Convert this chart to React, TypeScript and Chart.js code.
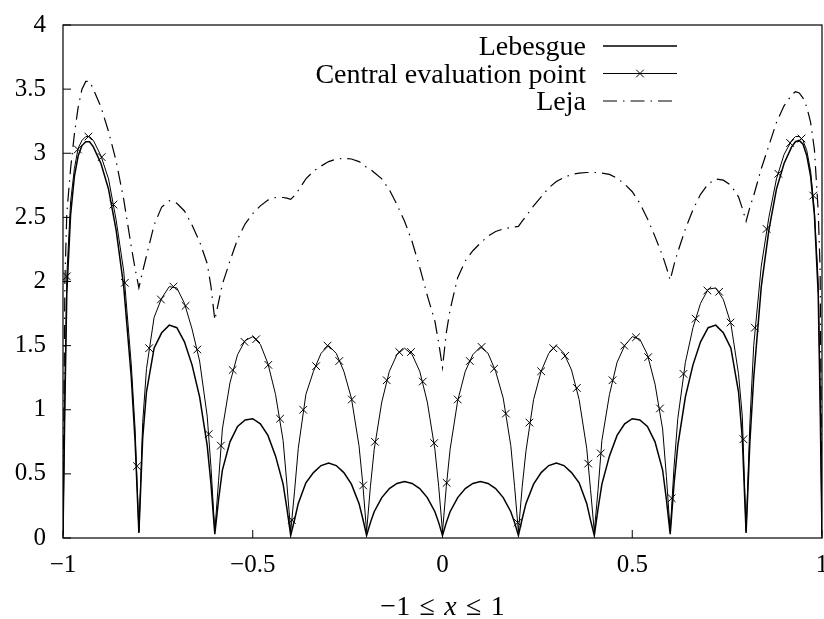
import React, { useEffect, useRef } from "react";
import { Chart, registerables } from "chart.js";

Chart.register(...registerables);

// ---- data ----
const xGrid = [
  -1, -0.995, -0.99, -0.98, -0.97, -0.96, -0.95, -0.94, -0.93, -0.92, -0.9, -0.88, -0.86, -0.84, -0.82, -0.81,
  -0.8, -0.79, -0.78, -0.76, -0.74, -0.72, -0.7, -0.68, -0.66, -0.64, -0.62, -0.61,
  -0.6, -0.59, -0.58, -0.56, -0.54, -0.52, -0.5, -0.48, -0.46, -0.44, -0.42, -0.41,
  -0.4, -0.39, -0.38, -0.36, -0.34, -0.32, -0.3, -0.28, -0.26, -0.24, -0.22, -0.21,
  -0.2, -0.19, -0.18, -0.16, -0.14, -0.12, -0.1, -0.08, -0.06, -0.04, -0.02, -0.01,
  0,
  0.01, 0.02, 0.04, 0.06, 0.08, 0.1, 0.12, 0.14, 0.16, 0.18, 0.19, 0.2,
  0.21, 0.22, 0.24, 0.26, 0.28, 0.3, 0.32, 0.34, 0.36, 0.38, 0.39, 0.4,
  0.41, 0.42, 0.44, 0.46, 0.48, 0.5, 0.52, 0.54, 0.56, 0.58, 0.59, 0.6,
  0.61, 0.62, 0.64, 0.66, 0.68, 0.7, 0.72, 0.74, 0.76, 0.78, 0.79, 0.8,
  0.81, 0.82, 0.84, 0.86, 0.88, 0.9, 0.92, 0.93, 0.94, 0.95, 0.96, 0.97, 0.98, 0.99, 0.995, 1,
];

const lebesgue = [
  0.02, 1.05, 1.9, 2.52, 2.82, 2.98, 3.06, 3.09, 3.09, 3.05, 2.92, 2.72, 2.4, 1.96, 1.25, 0.75,
  0.04, 0.78, 1.14, 1.48, 1.6, 1.66, 1.64, 1.53, 1.35, 1.1, 0.72, 0.42,
  0.03, 0.3, 0.53, 0.75, 0.87, 0.92, 0.93, 0.89, 0.8, 0.64, 0.42, 0.23,
  0.02, 0.14, 0.27, 0.43, 0.51, 0.565, 0.585, 0.565, 0.51, 0.42, 0.27, 0.15,
  0.02, 0.12, 0.205, 0.315, 0.385, 0.425, 0.44, 0.425, 0.385, 0.315, 0.205, 0.12,
  0.02,
  0.12, 0.205, 0.315, 0.385, 0.425, 0.44, 0.425, 0.385, 0.315, 0.205, 0.12, 0.02,
  0.15, 0.27, 0.42, 0.51, 0.565, 0.585, 0.565, 0.51, 0.43, 0.27, 0.14, 0.02,
  0.23, 0.42, 0.64, 0.8, 0.89, 0.93, 0.92, 0.87, 0.75, 0.53, 0.3, 0.03,
  0.42, 0.72, 1.1, 1.35, 1.53, 1.64, 1.66, 1.6, 1.48, 1.14, 0.78, 0.04,
  0.75, 1.25, 1.96, 2.4, 2.72, 2.92, 3.05, 3.09, 3.1, 3.07, 2.98, 2.82, 2.52, 1.9, 1.05, 0.02,
];

const central = [
  0.02, 1.15, 2.04, 2.62, 2.88, 3.04, 3.1, 3.13, 3.13, 3.1, 2.98, 2.8, 2.48, 2.08, 1.35, 0.85,
  0.05, 0.9, 1.32, 1.72, 1.87, 1.96, 1.95, 1.83, 1.63, 1.38, 0.95, 0.55,
  0.05, 0.45, 0.85, 1.21, 1.43, 1.54, 1.57, 1.51, 1.36, 1.12, 0.76, 0.42,
  0.05, 0.36, 0.7, 1.12, 1.3, 1.44, 1.5, 1.44, 1.3, 1.09, 0.72, 0.42,
  0.05, 0.4, 0.69, 1.06, 1.3, 1.43, 1.48, 1.43, 1.3, 1.06, 0.69, 0.4,
  0.05,
  0.4, 0.69, 1.07, 1.3, 1.43, 1.49, 1.44, 1.3, 1.09, 0.72, 0.4, 0.05,
  0.4, 0.68, 1.08, 1.3, 1.44, 1.5, 1.44, 1.31, 1.08, 0.7, 0.38, 0.05,
  0.38, 0.76, 1.12, 1.37, 1.5, 1.57, 1.55, 1.43, 1.2, 0.85, 0.48, 0.05,
  0.55, 0.93, 1.37, 1.64, 1.83, 1.94, 1.95, 1.86, 1.67, 1.28, 0.95, 0.05,
  0.9, 1.5, 2.12, 2.5, 2.8, 2.99, 3.1, 3.13, 3.13, 3.1, 3.02, 2.86, 2.55, 2.0, 1.2, 0.02,
];

const leja = [
  0.05, 2.0, 2.53, 2.88, 3.15, 3.36, 3.5, 3.56, 3.56, 3.5, 3.36, 3.17, 2.94, 2.64, 2.27, 2.1,
  1.95, 2.08, 2.2, 2.44, 2.58, 2.63, 2.61, 2.55, 2.44, 2.31, 2.14, 1.96,
  1.7, 1.84, 1.98, 2.16, 2.33, 2.45, 2.53, 2.59, 2.635, 2.655, 2.655, 2.65,
  2.64, 2.67, 2.71, 2.8, 2.86, 2.9, 2.935, 2.955, 2.96, 2.955, 2.935, 2.915,
  2.89, 2.875, 2.85, 2.8, 2.715, 2.6, 2.47, 2.31, 2.11, 1.89, 1.69, 1.52,
  1.33,
  1.6, 1.78, 2.03, 2.16, 2.24, 2.3, 2.355, 2.39, 2.41, 2.42, 2.425, 2.43,
  2.47, 2.51, 2.59, 2.66, 2.73, 2.78, 2.81, 2.835, 2.845, 2.85, 2.85, 2.85,
  2.85, 2.845, 2.835, 2.805, 2.76, 2.7, 2.61, 2.49, 2.35, 2.2, 2.11, 2.01,
  2.13, 2.23, 2.41, 2.56, 2.68, 2.76, 2.8, 2.79, 2.75, 2.66, 2.57, 2.47,
  2.58, 2.67, 2.88, 3.06, 3.24, 3.37, 3.455, 3.48, 3.47, 3.43, 3.36, 3.24, 3.03, 2.55, 2.1, 0.05,
];

const markerX = [
  -0.99, -0.961, -0.933, -0.898, -0.867, -0.837, -0.805, -0.773, -0.742, -0.709, -0.677, -0.646, -0.616, -0.584,
  -0.553, -0.522, -0.491, -0.459, -0.428, -0.397, -0.367, -0.333, -0.303, -0.272, -0.239, -0.209, -0.178,
  -0.147, -0.114, -0.083, -0.052, -0.022, 0.011, 0.04, 0.072, 0.103, 0.136, 0.167, 0.198, 0.229, 0.26,
  0.292, 0.323, 0.354, 0.384, 0.417, 0.448, 0.479, 0.51, 0.542, 0.573, 0.604, 0.635, 0.667, 0.698, 0.729,
  0.759, 0.793, 0.823, 0.854, 0.885, 0.916, 0.946, 0.977,
];
const markerY = [
  2.04, 3.03, 3.13, 2.97, 2.6, 1.99, 0.56, 1.48, 1.86, 1.96, 1.81, 1.47, 0.81, 0.72,
  1.31, 1.53, 1.55, 1.35, 0.93, 0.14, 1.0, 1.34, 1.5, 1.38, 1.08, 0.41, 0.75,
  1.23, 1.45, 1.45, 1.22, 0.74, 0.43, 1.08, 1.38, 1.49, 1.32, 0.97, 0.12, 0.9, 1.3,
  1.48, 1.42, 1.17, 0.58, 0.66, 1.23, 1.5, 1.565, 1.41, 1.01, 0.31, 1.28, 1.71, 1.93, 1.92,
  1.68, 0.77, 1.64, 2.41, 2.84, 3.08, 3.115, 2.67,
];

const seriesNames = ["Lebesgue", "Central evaluation point", "Leja"];
const xTickValues = [-1, -0.5, 0, 0.5, 1];
const xTickLabels = ["\u22121", "\u22120.5", "0", "0.5", "1"];
const yTickValues = [0, 0.5, 1, 1.5, 2, 2.5, 3, 3.5, 4];
const yTickLabels = ["0", "0.5", "1", "1.5", "2", "2.5", "3", "3.5", "4"];
const xTitleParts = ["\u22121\u2004\u2264\u2004", "x", "\u2004\u2264\u20041"];

// ---- styles ----
const FONT = '"Liberation Serif", "DejaVu Serif", serif';
const lejaDash = [14, 6, 1.5, 6];
const zeroPad = () => ({ left: 0, right: 0, top: 0, bottom: 0 });

const framePlugin = {
  id: "gnuFrame",
  afterDatasetsDraw(chart: any) {
    const { ctx, chartArea } = chart;
    const { left, right, top, bottom } = chartArea;
    ctx.save();
    ctx.strokeStyle = "#000";
    ctx.lineWidth = 1.2;
    ctx.setLineDash([]);
    ctx.strokeRect(left, top, right - left, bottom - top);
    const xs = chart.scales.x;
    const ys = chart.scales.y;
    ctx.lineWidth = 1;
    ctx.beginPath();
    xTickValues.forEach((v) => {
      const px = xs.getPixelForValue(v);
      ctx.moveTo(px, bottom);
      ctx.lineTo(px, bottom - 8);
    });
    yTickValues.forEach((v) => {
      const py = ys.getPixelForValue(v);
      ctx.moveTo(left, py);
      ctx.lineTo(left + 8, py);
    });
    ctx.stroke();
    ctx.restore();
  },
  afterDraw(chart: any) {
    const { ctx, chartArea } = chart;
    const { left, right, top } = chartArea;
    ctx.save();
    // x-axis title
    const size = 28;
    const upright = `${size}px ${FONT}`;
    const italic = `italic ${size}px ${FONT}`;
    ctx.textBaseline = "alphabetic";
    ctx.fillStyle = "#000";
    const fonts = [upright, italic, upright];
    const widths = xTitleParts.map((t, i) => {
      ctx.font = fonts[i];
      return ctx.measureText(t).width;
    });
    const total = widths.reduce((a, b) => a + b, 0);
    let cx = (left + right) / 2 - total / 2;
    xTitleParts.forEach((t, i) => {
      ctx.font = fonts[i];
      ctx.textAlign = "left";
      ctx.fillText(t, cx, 615);
      cx += widths[i];
    });

    // legend (gnuplot style: right-aligned text, sample on the right)
    ctx.font = `28px ${FONT}`;
    ctx.textAlign = "right";
    const textRight = right - 236;
    const s0 = right - 219;
    const s1 = right - 145;
    const rows = [
      { label: seriesNames[0], width: 1.5, dash: [] as number[], marker: false },
      { label: seriesNames[1], width: 1, dash: [] as number[], marker: true },
      { label: seriesNames[2], width: 1.2, dash: lejaDash, marker: false },
    ];
    rows.forEach((r, i) => {
      const y = top + 21 + i * 27.5;
      ctx.fillText(r.label, textRight, y + 9);
      ctx.beginPath();
      ctx.setLineDash(r.dash);
      ctx.lineWidth = r.width;
      ctx.strokeStyle = "#000";
      ctx.moveTo(s0, y);
      ctx.lineTo(s1, y);
      ctx.stroke();
      ctx.setLineDash([]);
      if (r.marker) {
        const m = (s0 + s1) / 2;
        ctx.lineWidth = 1;
        ctx.beginPath();
        ctx.moveTo(m - 3.8, y - 3.8);
        ctx.lineTo(m + 3.8, y + 3.8);
        ctx.moveTo(m - 3.8, y + 3.8);
        ctx.lineTo(m + 3.8, y - 3.8);
        ctx.stroke();
      }
    });
    ctx.restore();
  },
};

export default function App() {
  const ref = useRef<HTMLCanvasElement | null>(null);

  useEffect(() => {
    if (!ref.current) return;
    const pts = (ys: number[]) => xGrid.map((x, i) => ({ x, y: ys[i] }));
    const chart = new Chart(ref.current, {
      type: "scatter",
      data: {
        datasets: [
          {
            label: seriesNames[0],
            data: pts(lebesgue),
            showLine: true,
            borderColor: "#000",
            backgroundColor: "#000",
            borderWidth: 1.5,
            pointRadius: 0,
            tension: 0,
          },
          {
            label: seriesNames[1],
            data: pts(central),
            showLine: true,
            borderColor: "#000",
            backgroundColor: "#000",
            borderWidth: 1,
            pointRadius: 0,
            tension: 0,
          },
          {
            label: seriesNames[1] + " markers",
            data: markerX.map((x, i) => ({ x, y: markerY[i] })),
            showLine: false,
            borderColor: "#000",
            backgroundColor: "#000",
            pointStyle: "crossRot",
            pointRadius: 5.4,
            pointBorderWidth: 1,
          },
          {
            label: seriesNames[2],
            data: pts(leja),
            showLine: true,
            borderColor: "#000",
            backgroundColor: "#000",
            borderWidth: 1.2,
            borderDash: lejaDash,
            pointRadius: 0,
            tension: 0,
          },
        ],
      } as any,
      options: {
        responsive: false,
        animation: false,
        devicePixelRatio: 1,
        layout: { autoPadding: false, padding: { left: 0, right: 2, top: 25, bottom: 0 } },
        plugins: { legend: { display: false }, tooltip: { enabled: false } },
        scales: {
          x: {
            type: "linear",
            min: -1,
            max: 1,
            grid: { display: false, drawTicks: false },
            border: { display: false },
            afterBuildTicks: (s: any) => {
              s.ticks = xTickValues.map((v) => ({ value: v }));
            },
            afterFit: (s: any) => {
              s.height = 81;
              s.paddingLeft = 0;
              s.paddingRight = 0;
              s.paddingTop = 0;
              s.paddingBottom = 0;
              s.getPadding = zeroPad;
            },
            ticks: {
              padding: 12.5,
              color: "#000",
              font: { family: FONT, size: 25 },
              maxRotation: 0,
              callback: (_v: any, i: number) => xTickLabels[i],
            },
          },
          y: {
            type: "linear",
            min: 0,
            max: 4,
            grid: { display: false, drawTicks: false },
            border: { display: false },
            afterBuildTicks: (s: any) => {
              s.ticks = yTickValues.map((v) => ({ value: v }));
            },
            afterFit: (s: any) => {
              s.width = 63;
              s.paddingLeft = 0;
              s.paddingRight = 0;
              s.paddingTop = 0;
              s.paddingBottom = 0;
              s.getPadding = zeroPad;
            },
            ticks: {
              padding: 17,
              color: "#000",
              font: { family: FONT, size: 25 },
              callback: (_v: any, i: number) => yTickLabels[i],
            },
          },
        },
      } as any,
      plugins: [framePlugin],
    });
    return () => chart.destroy();
  }, []);

  return (
    <div style={{ position: "absolute", left: 0, top: 0, width: 824, height: 619, background: "#fff" }}>
      <canvas ref={ref} width={824} height={619} style={{ display: "block", width: 824, height: 619 }} />
    </div>
  );
}
